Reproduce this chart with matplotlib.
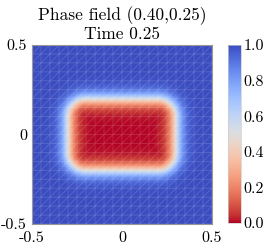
import numpy as np
import matplotlib
matplotlib.use("Agg")
import matplotlib.pyplot as plt
import matplotlib.tri as mtri

plt.rcParams['font.family'] = 'cmr10'
plt.rcParams['mathtext.fontset'] = 'cm'
plt.rcParams['axes.formatter.use_mathtext'] = True

# inclusion parameters
center = [0.0, 0.0]
half_size = [0.30, 0.20]
corner_radius = 0.10
eps = 0.05
mesh_cells = 20
field_cells = 100

tick_vals = [-0.5, 0.0, 0.5]
tick_labels = ['-0.5', '0', '0.5']
cbar_ticks = [0.0, 0.2, 0.4, 0.6, 0.8, 1.0]
cbar_labels = ['0.0', '0.2', '0.4', '0.6', '0.8', '1.0']


def phase(x, y):
    qx = np.abs(x - center[0]) - (half_size[0] - corner_radius)
    qy = np.abs(y - center[1]) - (half_size[1] - corner_radius)
    d = np.hypot(np.maximum(qx, 0), np.maximum(qy, 0)) + np.minimum(np.maximum(qx, qy), 0) - corner_radius
    return 0.5 * (1 + np.tanh(d / eps))


def unit_mesh(n):
    g = np.linspace(-0.5, 0.5, n + 1)
    X, Y = np.meshgrid(g, g)
    tris = []
    for j in range(n):
        for i in range(n):
            a = j * (n + 1) + i
            b = a + 1
            c = a + (n + 1)
            d = c + 1
            tris.append([a, b, d])
            tris.append([a, d, c])
    return mtri.Triangulation(X.ravel(), Y.ravel(), np.array(tris))


fig = plt.figure(figsize=(2.66, 2.45), dpi=100)
ax = fig.add_axes([32 / 266, 21 / 245, 180 / 266, 179 / 245])
cax = fig.add_axes([228 / 266, 22 / 245, 13 / 266, 178 / 245])

fine = unit_mesh(field_cells)
vals = phase(fine.x, fine.y)
tpc = ax.tripcolor(fine, vals, shading='gouraud', cmap='coolwarm_r', vmin=0, vmax=1)

coarse = unit_mesh(mesh_cells)
ax.triplot(coarse, color='white', lw=0.5, alpha=0.18)

ax.set_xlim(-0.5, 0.5)
ax.set_ylim(-0.5, 0.5)
ax.set_aspect('auto')
ax.set_xticks(tick_vals)
ax.set_xticklabels(tick_labels)
ax.set_yticks(tick_vals)
ax.set_yticklabels(tick_labels)
ax.tick_params(length=0, labelsize=11.5)
ax.tick_params(axis='x', pad=5)
ax.tick_params(axis='y', pad=3.6)
for s in ax.spines.values():
    s.set_color('#999999')
    s.set_linewidth(0.8)
ax.set_title('Phase field (0.40,0.25)\nTime 0.25', fontsize=12.5, pad=4)

cb = fig.colorbar(tpc, cax=cax, ticks=cbar_ticks)
cb.ax.set_yticklabels(cbar_labels)
cb.ax.tick_params(length=0, pad=2, labelsize=11.5)
cb.outline.set_edgecolor('#cccccc')
cb.outline.set_linewidth(0.5)

fig.savefig('out.png', dpi=100)
